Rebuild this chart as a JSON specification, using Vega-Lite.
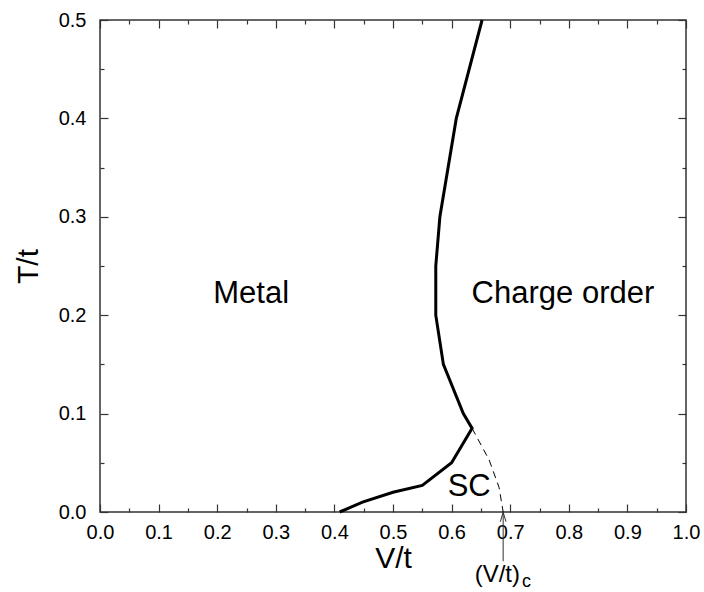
{
  "$schema": "https://vega.github.io/schema/vega-lite/v6.json",
  "width": 586,
  "height": 492,
  "autosize": "none",
  "padding": {"left": 100, "top": 20, "right": 18, "bottom": 80},
  "background": "white",
  "config": {
    "view": {"stroke": "#333", "strokeWidth": 1.5},
    "font": "Liberation Sans",
    "axis": {"grid": false, "domain": false, "tickColor": "#333", "tickWidth": 1.2, "labelFont": "Liberation Sans", "titleFont": "Liberation Sans", "labelColor": "black", "titleColor": "black", "titleFontWeight": "normal", "labelFontSize": 20, "titleFontSize": 30}
  },
  "datasets": {
    "solid": [
      {"i": 0, "v": 0.409, "t": 0.0},
      {"i": 1, "v": 0.448, "t": 0.010},
      {"i": 2, "v": 0.50, "t": 0.020},
      {"i": 3, "v": 0.55, "t": 0.027},
      {"i": 4, "v": 0.60, "t": 0.050},
      {"i": 5, "v": 0.635, "t": 0.085},
      {"i": 6, "v": 0.620, "t": 0.100},
      {"i": 7, "v": 0.586, "t": 0.150},
      {"i": 8, "v": 0.573, "t": 0.200},
      {"i": 9, "v": 0.573, "t": 0.250},
      {"i": 10, "v": 0.58, "t": 0.300},
      {"i": 11, "v": 0.608, "t": 0.400},
      {"i": 12, "v": 0.652, "t": 0.500}
    ],
    "dashed": [
      {"i": 0, "v": 0.635, "t": 0.085},
      {"i": 1, "v": 0.664, "t": 0.053},
      {"i": 2, "v": 0.681, "t": 0.025},
      {"i": 3, "v": 0.688, "t": 0.0}
    ],
    "labels": [
      {"v": 0.258, "t": 0.222, "text": "Metal"},
      {"v": 0.790, "t": 0.222, "text": "Charge order"},
      {"v": 0.630, "t": 0.025, "text": "SC"}
    ],
    "arrow": [
      {"v": 0.688, "t": -0.05, "t2": 0.0}
    ]
  },
  "layer": [
    {
      "data": {"name": "solid"},
      "mark": {"type": "line", "color": "black", "strokeWidth": 3, "clip": false},
      "encoding": {
        "x": {"field": "v", "type": "quantitative", "scale": {"domain": [0, 1], "nice": false, "zero": false},
          "axis": {"orient": "bottom", "title": "V/t", "values": [0,0.05,0.1,0.15,0.2,0.25,0.3,0.35,0.4,0.45,0.5,0.55,0.6,0.65,0.7,0.75,0.8,0.85,0.9,0.95,1.0],
            "labelExpr": "round(datum.value*100) % 10 == 0 ? format(datum.value, '.1f') : ''",
            "tickSize": {"condition": {"test": "round(datum.value*100) % 10 != 0", "value": -4}, "value": -8},
            "labelFontSize": 20, "labelPadding": 18, "labelFlush": false, "titleY": 55, "titleBaseline": "alphabetic"}},
        "y": {"field": "t", "type": "quantitative", "scale": {"domain": [0, 0.5], "nice": false, "zero": false},
          "axis": {"orient": "left", "title": "T/t", "values": [0,0.05,0.1,0.15,0.2,0.25,0.3,0.35,0.4,0.45,0.5],
            "labelExpr": "round(datum.value*100) % 10 == 0 ? format(datum.value, '.1f') : ''",
            "tickSize": {"condition": {"test": "round(datum.value*100) % 10 != 0", "value": -4}, "value": -8},
            "labelFontSize": 20, "labelPadding": 22, "labelFlush": false, "titleX": -63, "titleBaseline": "alphabetic"}},
        "order": {"field": "i", "type": "quantitative"}
      }
    },
    {
      "data": {"name": "dashed"},
      "mark": {"type": "line", "color": "black", "strokeWidth": 1, "strokeDash": [7, 5]},
      "encoding": {
        "x": {"field": "v", "type": "quantitative",
          "axis": {"orient": "top", "title": null, "labels": false, "values": [0,0.05,0.1,0.15,0.2,0.25,0.3,0.35,0.4,0.45,0.5,0.55,0.6,0.65,0.7,0.75,0.8,0.85,0.9,0.95,1.0],
            "tickSize": {"condition": {"test": "round(datum.value*100) % 10 != 0", "value": -4}, "value": -8}}},
        "y": {"field": "t", "type": "quantitative",
          "axis": {"orient": "right", "title": null, "labels": false, "values": [0,0.05,0.1,0.15,0.2,0.25,0.3,0.35,0.4,0.45,0.5],
            "tickSize": {"condition": {"test": "round(datum.value*100) % 10 != 0", "value": -4}, "value": -8}}},
        "order": {"field": "i", "type": "quantitative"}
      }
    },
    {
      "data": {"name": "labels"},
      "mark": {"type": "text", "fontSize": 31, "baseline": "middle", "align": "center", "color": "black"},
      "encoding": {
        "x": {"field": "v", "type": "quantitative", "axis": null},
        "y": {"field": "t", "type": "quantitative", "axis": null},
        "text": {"field": "text"}
      }
    },
    {
      "data": {"name": "arrow"},
      "mark": {"type": "rule", "color": "#333", "strokeWidth": 1},
      "encoding": {
        "x": {"field": "v", "type": "quantitative", "axis": null},
        "y": {"field": "t", "type": "quantitative", "axis": null},
        "y2": {"field": "t2"}
      }
    },
    {
      "data": {"name": "arrow"},
      "mark": {"type": "point", "shape": "M-0.6,1L0,-1L0.6,1", "filled": false, "stroke": "#333", "strokeWidth": 1, "size": 90, "opacity": 1, "yOffset": 5},
      "encoding": {
        "x": {"field": "v", "type": "quantitative", "axis": null},
        "y": {"field": "t2", "type": "quantitative", "axis": null}
      }
    },
    {
      "data": {"values": [{"v": 0.678, "t": -0.0715, "text": "(V/t)"}]},
      "mark": {"type": "text", "fontSize": 24, "baseline": "alphabetic", "align": "center", "color": "black"},
      "encoding": {
        "x": {"field": "v", "type": "quantitative", "axis": null},
        "y": {"field": "t", "type": "quantitative", "axis": null},
        "text": {"field": "text"}
      }
    },
    {
      "data": {"values": [{"v": 0.72, "t": -0.0765, "text": "c"}]},
      "mark": {"type": "text", "fontSize": 18, "baseline": "alphabetic", "align": "left", "color": "black"},
      "encoding": {
        "x": {"field": "v", "type": "quantitative", "axis": null},
        "y": {"field": "t", "type": "quantitative", "axis": null},
        "text": {"field": "text"}
      }
    }
  ],
  "resolve": {"axis": {"x": "independent", "y": "independent"}}
}
